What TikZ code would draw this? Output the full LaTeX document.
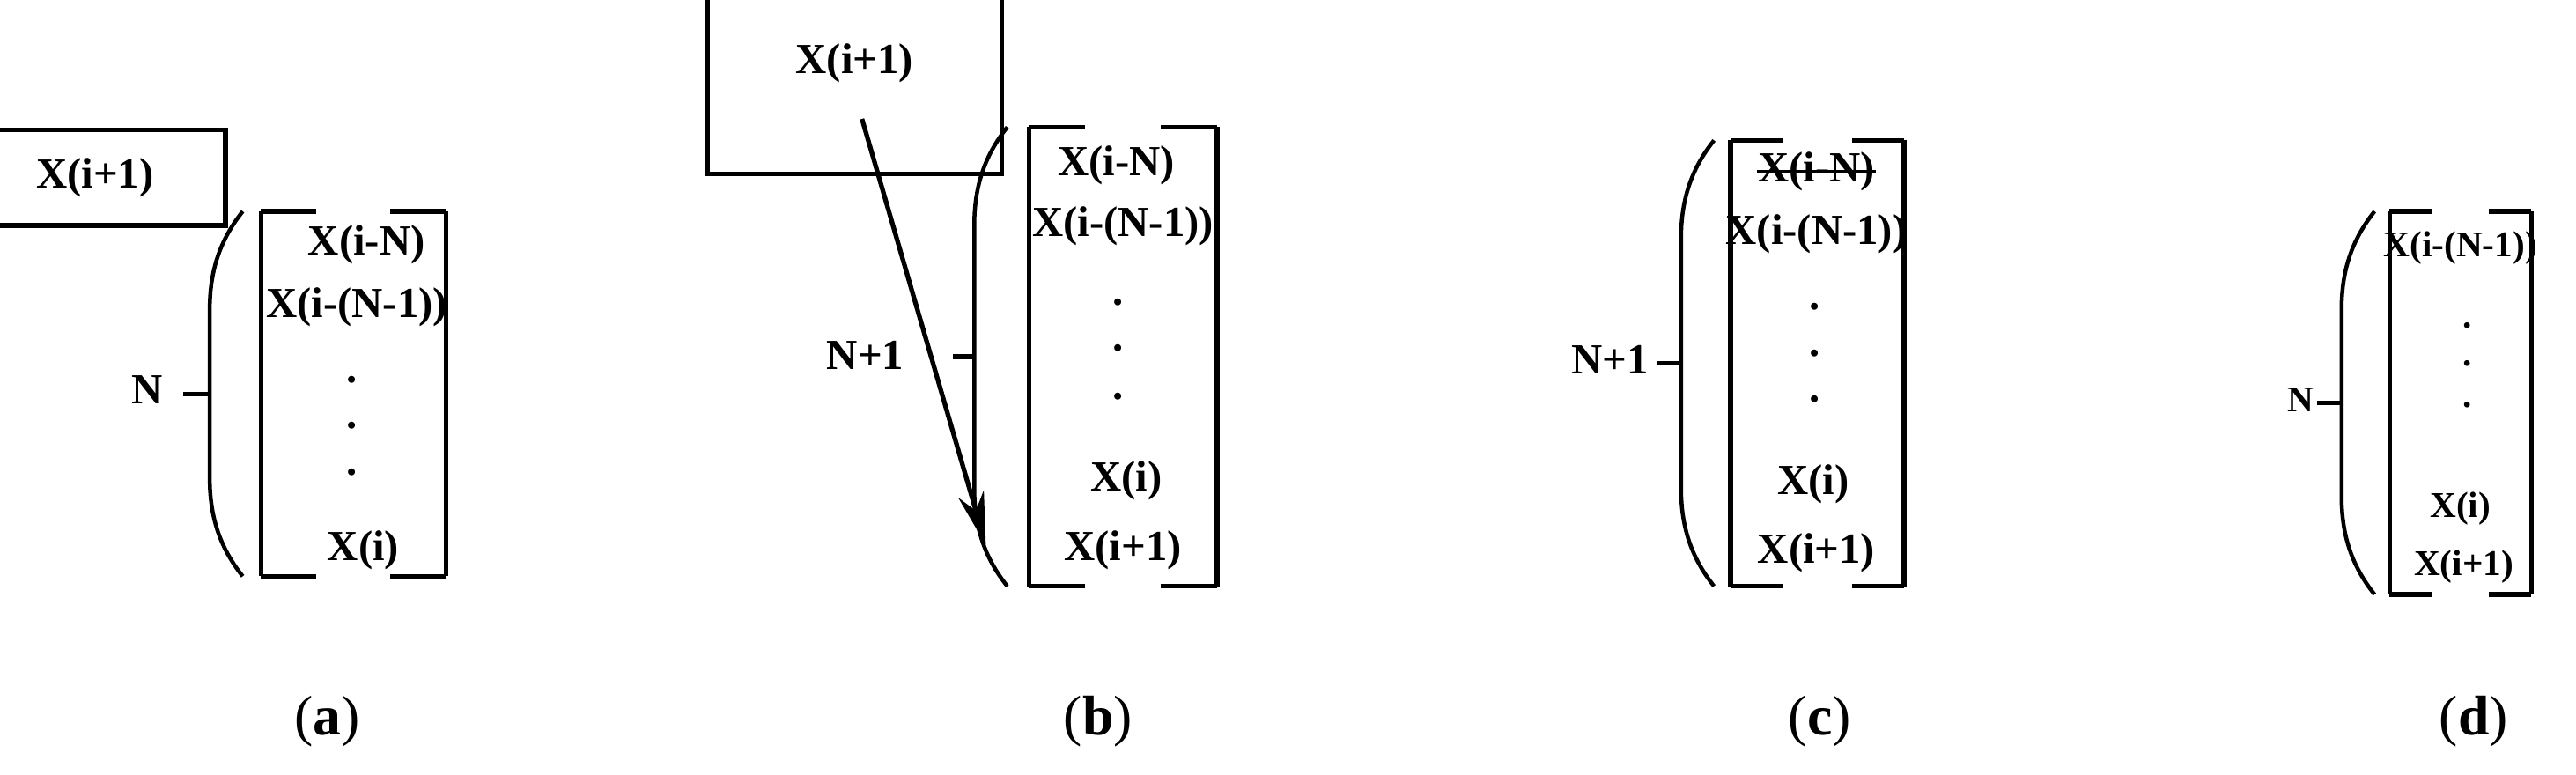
\documentclass[tikz,border=0pt]{standalone}
\usepackage{fontspec}
\setmainfont{Liberation Serif}
\usetikzlibrary{arrows.meta}
\tikzset{
  entry/.style={font=\bfseries\fontsize{13}{13}\selectfont, inner sep=0pt},
  small/.style={font=\bfseries\fontsize{11}{11}\selectfont, inner sep=0pt},
  sub/.style={font=\fontsize{17}{17}\selectfont},
  frame/.style={line width=1.4pt},
}
% bracket with gaps at top and bottom, plus parenthesis and tick
\newcommand{\vecframe}[6]{% x-paren, x-left, x-right, y-top, y-bottom, tick-start
  \draw[frame] (#2,#4)--(#2,#5);
  \draw[frame] (#3,#4)--(#3,#5);
  \draw[frame] (#2,#4)--({#2+0.3*(#3-#2)},#4);
  \draw[frame] ({#3-0.3*(#3-#2)},#4)--(#3,#4);
  \draw[frame] (#2,#5)--({#2+0.3*(#3-#2)},#5);
  \draw[frame] ({#3-0.3*(#3-#2)},#5)--(#3,#5);
  \draw[line width=1.2pt] (#1+20,#4) .. controls (#1+4,#4+20) and (#1,#4+40) .. (#1,#4+60)
    -- (#1,#5-60) .. controls (#1,#5-40) and (#1+4,#5-20) .. (#1+20,#5);
  \draw[frame] (#6,{(#4+#5)/2})--(#1,{(#4+#5)/2});
}
\begin{document}
\begin{tikzpicture}[x=0.5pt,y=-0.5pt]
  \useasboundingbox (0,0) rectangle (1560,469);
  % (a)
  \node[entry, draw, line width=1.4pt, minimum width=79, minimum height=29, inner sep=2pt] (a-new) at (57.5,107.5) {X(i+1)};
  \vecframe{127}{158}{270}{128}{349}{111}
  \node[entry] (a-1) at (222,148) {X(i-N)};
  \node[entry] (a-2) at (216,186) {X(i-(N-1))};
  \foreach \y in {230,258,286} \node[entry] at (213,\y) {.};
  \node[entry] (a-3) at (220,333) {X(i)};
  \node[entry] (a-n) at (89,236) {N};
  \node[sub] (a-lab) at (198,437) {(\textbf{a})};
  % (b)
  \node[entry, draw, line width=1.4pt, minimum width=89, minimum height=67, inner sep=2pt] (b-new) at (517.5,38.5) {X(i+1)};
  \vecframe{590}{623}{737}{77}{355}{577}
  \node[entry] (b-1) at (676,100) {X(i-N)};
  \node[entry] (b-2) at (680,137) {X(i-(N-1))};
  \foreach \y in {183,211,240} \node[entry] at (677,\y) {.};
  \node[entry] (b-3) at (682,291) {X(i)};
  \node[entry] (b-4) at (680,333) {X(i+1)};
  \node[entry] (b-n) at (524,215) {N+1};
  \coordinate (b-in) at (597,330);
  \draw[line width=1.4pt, -{Stealth[length=16pt,width=8pt]}] (522,72) -- (b-in);
  \node[sub] (b-lab) at (665,437) {(\textbf{b})};
  % (c)
  \vecframe{1018}{1048}{1153}{85}{355}{1003}
  \node[entry] (c-1) at (1100,104) {X(i-N)};
  \draw[line width=0.8pt] (c-1.west) -- (c-1.east);
  \node[entry] (c-2) at (1100,142) {X(i-(N-1))};
  \foreach \y in {186,214,242} \node[entry] at (1099,\y) {.};
  \node[entry] (c-3) at (1098,293) {X(i)};
  \node[entry] (c-4) at (1100,335) {X(i+1)};
  \node[entry] (c-n) at (975,218) {N+1};
  \node[sub] (c-lab) at (1102,437) {(\textbf{c})};
  % (d)
  \vecframe{1418}{1447}{1533}{128}{360}{1403}
  \node[small] (d-1) at (1490,150) {X(i-(N-1))};
  \foreach \y in {197,220,245} \node[small] at (1494,\y) {.};
  \node[small] (d-2) at (1490,308) {X(i)};
  \node[small] (d-3) at (1492,343) {X(i+1)};
  \node[small] (d-n) at (1393,242) {N};
  \node[sub] (d-lab) at (1498,437) {(\textbf{d})};
\end{tikzpicture}
\end{document}
